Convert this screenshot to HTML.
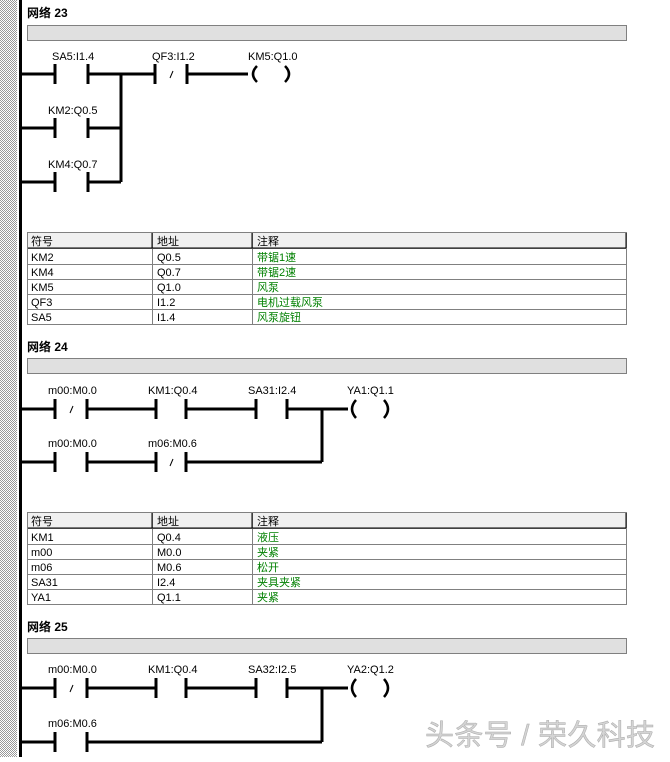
<!DOCTYPE html>
<html><head><meta charset="utf-8"><style>
body{margin:0;width:670px;height:757px;overflow:hidden;background:#fff}
svg text{font-family:"Liberation Sans","Noto Sans CJK SC",sans-serif;font-size:11px}
.t{font-weight:bold;font-size:12px}
.g{fill:#008000}
</style></head><body>
<svg width="670" height="757" xmlns="http://www.w3.org/2000/svg">
<defs><pattern id="h" width="2" height="2" patternUnits="userSpaceOnUse"><rect width="2" height="2" fill="#fff"/><rect width="1" height="1" fill="#999"/><rect x="1" y="1" width="1" height="1" fill="#999"/></pattern></defs>
<rect x="0" y="0" width="17" height="757" fill="url(#h)"/>
<rect x="19" y="0" width="3" height="757" fill="#000"/>
<g stroke="#000" stroke-width="3" fill="none">
<path d="M22 74H55M88 74H121M121 74V182M121 74H155M187 74H248M22 128H55M88 128H121M22 182H55M88 182H121"/>
<path d="M55 64V84M88 64V84M155 64V84M187 64V84M55 118V138M88 118V138M55 172V192M88 172V192"/>
<path d="M22 409H55M87 409H156M186 409H256M287 409H348M322 409V462M22 462H55M87 462H156M186 462H322"/>
<path d="M55 399V419M87 399V419M156 399V419M186 399V419M256 399V419M287 399V419M55 452V472M87 452V472M156 452V472M186 452V472"/>
<path d="M22 688H55M87 688H156M186 688H256M287 688H348M322 688V742M22 742H55M87 742H322"/>
<path d="M55 678V698M87 678V698M156 678V698M186 678V698M256 678V698M287 678V698M55 732V752M87 732V752"/>
</g>
<g stroke="#000" stroke-width="2.5" fill="none">
<path d="M257 66Q249 74 257 82M285 66Q293 74 285 82"/>
<path d="M356 400Q348 409 356 418M384 400Q392 409 384 418"/>
<path d="M356 679Q348 688 356 697M384 679Q392 688 384 697"/>
</g>
<g stroke="#000" stroke-width="1">
<path d="M170 78L173 71M70 413L73 406M170 466L173 459M70 692L73 685"/>
</g>
<text x="52" y="60">SA5:I1.4</text><text x="152" y="60">QF3:I1.2</text><text x="248" y="60">KM5:Q1.0</text>
<text x="48" y="114">KM2:Q0.5</text><text x="48" y="168">KM4:Q0.7</text>
<text x="48" y="394">m00:M0.0</text><text x="148" y="394">KM1:Q0.4</text><text x="248" y="394">SA31:I2.4</text><text x="347" y="394">YA1:Q1.1</text>
<text x="48" y="447">m00:M0.0</text><text x="148" y="447">m06:M0.6</text>
<text x="48" y="673">m00:M0.0</text><text x="148" y="673">KM1:Q0.4</text><text x="248" y="673">SA32:I2.5</text><text x="347" y="673">YA2:Q1.2</text>
<text x="48" y="727">m06:M0.6</text>
<text class="t" x="27" y="17">网络 23</text>
<rect x="27.5" y="25.5" width="599" height="15" fill="#e0e0e0" stroke="#808080"/>
<text class="t" x="27" y="351">网络 24</text>
<rect x="27.5" y="358.5" width="599" height="15" fill="#e0e0e0" stroke="#808080"/>
<text class="t" x="27" y="631">网络 25</text>
<rect x="27.5" y="638.5" width="599" height="15" fill="#e0e0e0" stroke="#808080"/>
<rect x="27.5" y="232.5" width="599" height="16" fill="#f0f0f0"/>
<g stroke="#808080" fill="none">
<rect x="27.5" y="232.5" width="599" height="92"/>
<path d="M27 248.5H627M27 264.5H627M27 279.5H627M27 294.5H627M27 309.5H627M152.5 232V325M252.5 232V325"/>
</g>
<path d="M28 248H626M626 233V248M152 233V248M252 233V248" stroke="#000" stroke-width="1" fill="none"/>
<text x="31" y="245">符号</text><text x="157" y="245">地址</text><text x="257" y="245">注释</text>
<text x="31" y="261">KM2</text><text x="157" y="261">Q0.5</text><text class="g" x="257" y="261">带锯1速</text>
<text x="31" y="276">KM4</text><text x="157" y="276">Q0.7</text><text class="g" x="257" y="276">带锯2速</text>
<text x="31" y="291">KM5</text><text x="157" y="291">Q1.0</text><text class="g" x="257" y="291">风泵</text>
<text x="31" y="306">QF3</text><text x="157" y="306">I1.2</text><text class="g" x="257" y="306">电机过载风泵</text>
<text x="31" y="321">SA5</text><text x="157" y="321">I1.4</text><text class="g" x="257" y="321">风泵旋钮</text>
<rect x="27.5" y="512.5" width="599" height="16" fill="#f0f0f0"/>
<g stroke="#808080" fill="none">
<rect x="27.5" y="512.5" width="599" height="92"/>
<path d="M27 528.5H627M27 544.5H627M27 559.5H627M27 574.5H627M27 589.5H627M152.5 512V605M252.5 512V605"/>
</g>
<path d="M28 528H626M626 513V528M152 513V528M252 513V528" stroke="#000" stroke-width="1" fill="none"/>
<text x="31" y="525">符号</text><text x="157" y="525">地址</text><text x="257" y="525">注释</text>
<text x="31" y="541">KM1</text><text x="157" y="541">Q0.4</text><text class="g" x="257" y="541">液压</text>
<text x="31" y="556">m00</text><text x="157" y="556">M0.0</text><text class="g" x="257" y="556">夹紧</text>
<text x="31" y="571">m06</text><text x="157" y="571">M0.6</text><text class="g" x="257" y="571">松开</text>
<text x="31" y="586">SA31</text><text x="157" y="586">I2.4</text><text class="g" x="257" y="586">夹具夹紧</text>
<text x="31" y="601">YA1</text><text x="157" y="601">Q1.1</text><text class="g" x="257" y="601">夹紧</text>
<text x="425" y="745" textLength="230" style="font-size:29px;fill:#d4d4d4;stroke:#aaa;stroke-width:0.5">头条号 / 荣久科技</text>
</svg>
</body></html>
